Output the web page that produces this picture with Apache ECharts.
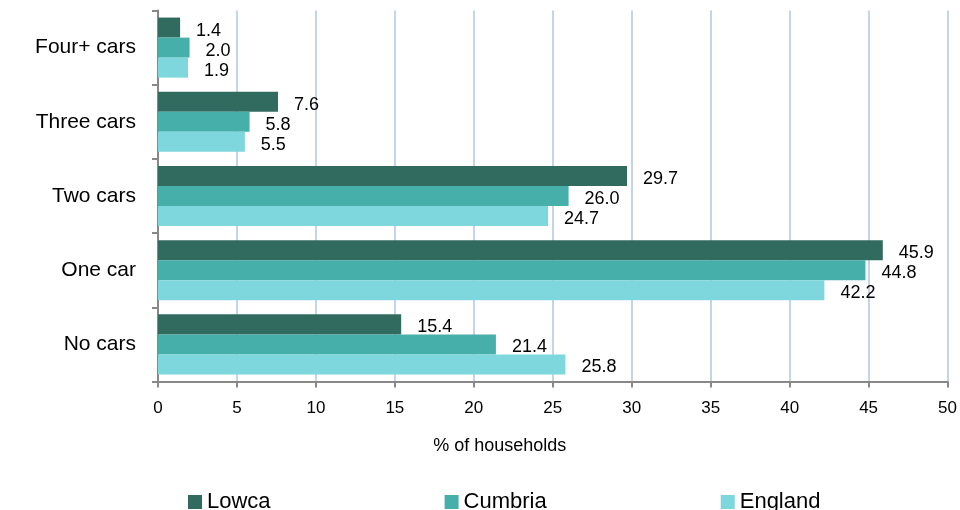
<!DOCTYPE html>
<html>
<head>
<meta charset="utf-8">
<script src="https://cdn.jsdelivr.net/npm/echarts@6/dist/echarts.min.js"></script>
<style>html,body{margin:0;padding:0;background:#fff;}#c{width:960px;height:510px;}</style>
</head>
<body>
<div id="c"></div>
<script>
const categories = ['Four+ cars', 'Three cars', 'Two cars', 'One car', 'No cars'];
const seriesNames = ['Lowca', 'Cumbria', 'England'];
const lowca = [1.4, 7.6, 29.7, 45.9, 15.4];
const cumbria = [2.0, 5.8, 26.0, 44.8, 21.4];
const england = [1.9, 5.5, 24.7, 42.2, 25.8];
const xTicks = [0, 5, 10, 15, 20, 25, 30, 35, 40, 45, 50];
const colors = ['#316B5F', '#47AFAA', '#7FD7DE'];
const font = 'Liberation Sans, Arial, sans-serif';

const chart = echarts.init(document.getElementById('c'), null, {renderer: 'canvas'});
const mk = (name, data, color) => ({
  name, type: 'bar', data,
  barGap: '0%', barCategoryGap: '19%',
  itemStyle: {color},
  label: {
    show: true, position: 'right', distance: 16, offset: [0, 3],
    color: '#000', fontFamily: font, fontSize: 18,
    formatter: p => p.value.toFixed(1)
  }
});
chart.setOption({
  animation: false,
  grid: {left: 158, right: 11, top: 10.5, bottom: 128.5, containLabel: false},
  xAxis: {
    type: 'value', min: xTicks[0], max: xTicks[xTicks.length - 1], interval: 5,
    name: '% of households', nameLocation: 'middle', nameGap: 56,
    nameTextStyle: {color: '#000', fontFamily: font, fontSize: 18, padding: [0, 0, 0, -106]},
    axisLine: {show: true, lineStyle: {color: '#888', width: 2}},
    axisTick: {show: true, length: 6, lineStyle: {color: '#888', width: 2}},
    axisLabel: {color: '#000', fontFamily: font, fontSize: 17, margin: 18},
    splitLine: {show: true, lineStyle: {color: '#C5D4EA', width: 2}}
  },
  yAxis: {
    type: 'category', data: categories, inverse: true,
    axisLine: {show: true, lineStyle: {color: '#888', width: 2}},
    axisTick: {show: true, length: 6, lineStyle: {color: '#888', width: 2}},
    axisLabel: {color: '#000', fontFamily: font, fontSize: 21, margin: 22, padding: [9, 0, 0, 0]}
  },
  legend: {
    data: seriesNames, left: 183, top: 485, itemGap: 174,
    icon: 'rect', itemWidth: 14, itemHeight: 14,
    textStyle: {color: '#000', fontFamily: font, fontSize: 22, lineHeight: 24}
  },
  series: [mk(seriesNames[0], lowca, colors[0]), mk(seriesNames[1], cumbria, colors[1]), mk(seriesNames[2], england, colors[2])]
});
</script>
</body>
</html>
